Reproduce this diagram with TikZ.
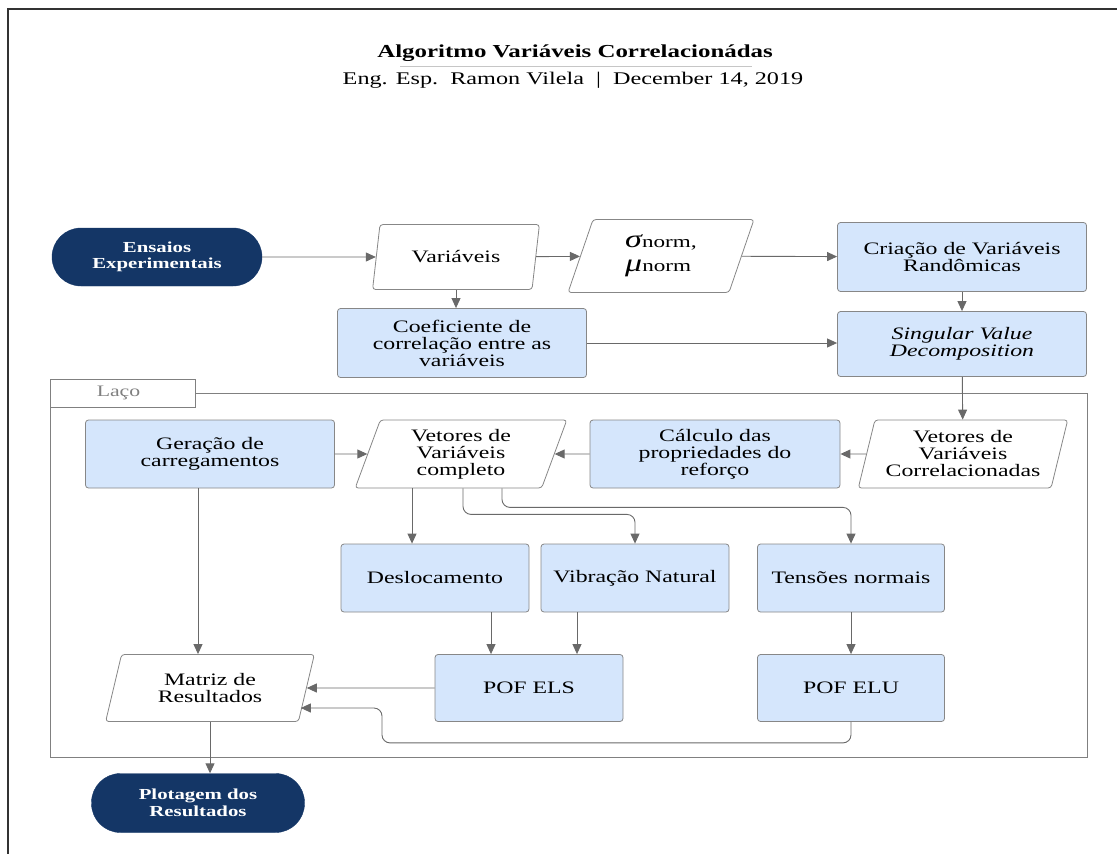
\documentclass[tikz,border=0pt]{standalone}
\usepackage{fontspec}
\setmainfont{Liberation Serif}[FakeStretch=1.36]
\usetikzlibrary{arrows.meta,shapes.geometric,calc}
\definecolor{procblue}{RGB}{213,230,252}
\definecolor{navy}{RGB}{20,54,102}
\definecolor{bordergray}{RGB}{135,135,135}
\definecolor{arrowgray}{RGB}{105,105,105}
\definecolor{framegray}{RGB}{128,128,128}
\definecolor{pageline}{RGB}{50,50,50}
\newcommand\fnode{\fontsize{17.5}{17}\selectfont}
\newcommand\fterm{\fontsize{15.3}{16.5}\selectfont\bfseries}
\tikzset{
  proc/.style={draw=bordergray, fill=procblue, rounded corners=3pt, line width=0.8pt,
    align=center, font=\fnode, inner sep=2pt},
  io/.style={trapezium, trapezium left angle=73, trapezium right angle=107,
    trapezium stretches=true, draw=bordergray, fill=white, rounded corners=3pt,
    line width=0.8pt, align=center, font=\fnode, inner sep=1pt},
  term/.style={fill=navy, draw=navy, rounded corners=29pt, text=white, font=\fterm,
    align=center, inner sep=2pt},
  conn/.style={draw=arrowgray, line width=0.9pt, rounded corners=8pt,
    -{Triangle[length=10pt,width=9pt]}},
}
\begin{document}
\begin{tikzpicture}[x=1pt,y=-1pt]
\useasboundingbox (0,0) rectangle (1117,854);
% page border
\draw[pageline, line width=2pt] (8,854) -- (8,9) -- (1117,9);
% title
\node[font=\fontsize{18.3}{18}\selectfont\bfseries] (title) at (575,53) {Algoritmo Variáveis Correlacionádas};
\draw[gray!45, line width=1.5pt] (400,66.5) -- (752,66.5);
\node[font=\fontsize{17.8}{18}\selectfont] (sub) at (573,80) {Eng. Esp.\ \ Ramon Vilela\ \ |\ \ December 14, 2019};

% loop frame
\draw[framegray, line width=0.9pt] (50,393) rectangle (1087,757);
\node[draw=framegray, fill=white, line width=0.9pt, minimum width=145pt, minimum height=28pt,
  text=gray, font=\fontsize{16}{17}\selectfont, inner sep=0pt] (laco) at (122.5,393) {\hspace*{-8pt}Laço};

% nodes
\node[term, minimum width=210pt, minimum height=58pt] (ens) at (157,257) {Ensaios\\Experimentais};
\node[io, minimum width=168pt, minimum height=65pt] (var) at (456,257) {Variáveis};
\node[io, minimum width=187pt, minimum height=73pt, align=left] (sig) at (661,256)
  {{\fontsize{25}{20}\selectfont\itshape σ}{\fontsize{17}{14}\selectfont norm},\\[7pt]{\fontsize{25}{20}\selectfont\itshape μ}{\fontsize{17}{14}\selectfont norm}};
\node[proc, minimum width=249pt, minimum height=69pt] (cri) at (962,257) {Criação de Variáveis\\Randômicas};
\node[proc, minimum width=249pt, minimum height=69pt] (coef) at (462,343) {Coeficiente de\\correlação entre as\\variáveis};
\node[proc, minimum width=249pt, minimum height=65pt, font=\fnode\itshape] (svd) at (962,344) {Singular Value\\Decomposition};

\node[io, minimum width=210pt, minimum height=68pt] (vvc) at (963,454) {Vetores de\\Variáveis\\Correlacionadas};
\node[proc, minimum width=250pt, minimum height=68pt] (calc) at (715,454) {Cálculo das\\propriedades do\\reforço};
\node[io, minimum width=212pt, minimum height=68pt] (vvp) at (461,454) {Vetores de\\Variáveis\\completo};
\node[proc, minimum width=249pt, minimum height=68pt] (ger) at (210,454) {Geração de\\carregamentos};

\node[proc, minimum width=188pt, minimum height=68pt] (desl) at (435,578) {Deslocamento};
\node[proc, minimum width=188pt, minimum height=68pt] (vib) at (635,578) {Vibração Natural};
\node[proc, minimum width=187pt, minimum height=68pt] (tens) at (851,578) {Tensões normais};

\node[proc, minimum width=188pt, minimum height=67pt] (els) at (529,688) {POF ELS};
\node[proc, minimum width=187pt, minimum height=67pt] (elu) at (851,688) {POF ELU};
\node[io, minimum width=209pt, minimum height=67pt] (mat) at (210,688) {Matriz de\\Resultados};

\node[term, minimum width=213pt, minimum height=59pt] (plot) at (198,803) {Plotagem dos\\Resultados};

% connectors
\draw[conn] (ens) -- (var);
\draw[conn] (var) -- (sig);
\draw[conn] (sig) -- (cri);
\draw[conn] (cri) -- (svd);
\draw[conn] (var.south) -- (var.south |- coef.north);
\draw[conn] (coef.east) -- (coef.east -| svd.west);
\draw[conn] (svd) -- (vvc);
\draw[conn] (vvc) -- (calc);
\draw[conn] (calc) -- (vvp);
\draw[conn] (ger) -- (vvp);

\coordinate (d1) at ($(vvp.south)+(-49,0)$);
\coordinate (d2) at ($(vvp.south)+(2,0)$);
\coordinate (d3) at ($(vvp.south)+(41,0)$);
\draw[conn] (d1) -- (d1 |- desl.north);
\draw[conn] (d2) -- ++(0,26) -| (vib.north);
\draw[conn] (d3) -- ++(0,19) -| (tens.north);

\coordinate (e1) at ($(desl.south)+(56,0)$);
\coordinate (e2) at ($(vib.south)+(-58,0)$);
\draw[conn] (e1) -- (e1 |- els.north);
\draw[conn] (e2) -- (e2 |- els.north);
\draw[conn] (tens) -- (elu);

\coordinate (g1) at ($(ger.south)+(-12,0)$);
\draw[conn] (g1) -- (g1 |- mat.north);
\draw[conn] (els.west) -- (mat);
\coordinate (m2) at ($(mat.east)+(-6,20)$);
\draw[conn] (elu.south) -- ++(0,21) -| (382,708) -- (m2);
\draw[conn] (mat.south) -- (plot.north -| mat.south);
\end{tikzpicture}
\end{document}
